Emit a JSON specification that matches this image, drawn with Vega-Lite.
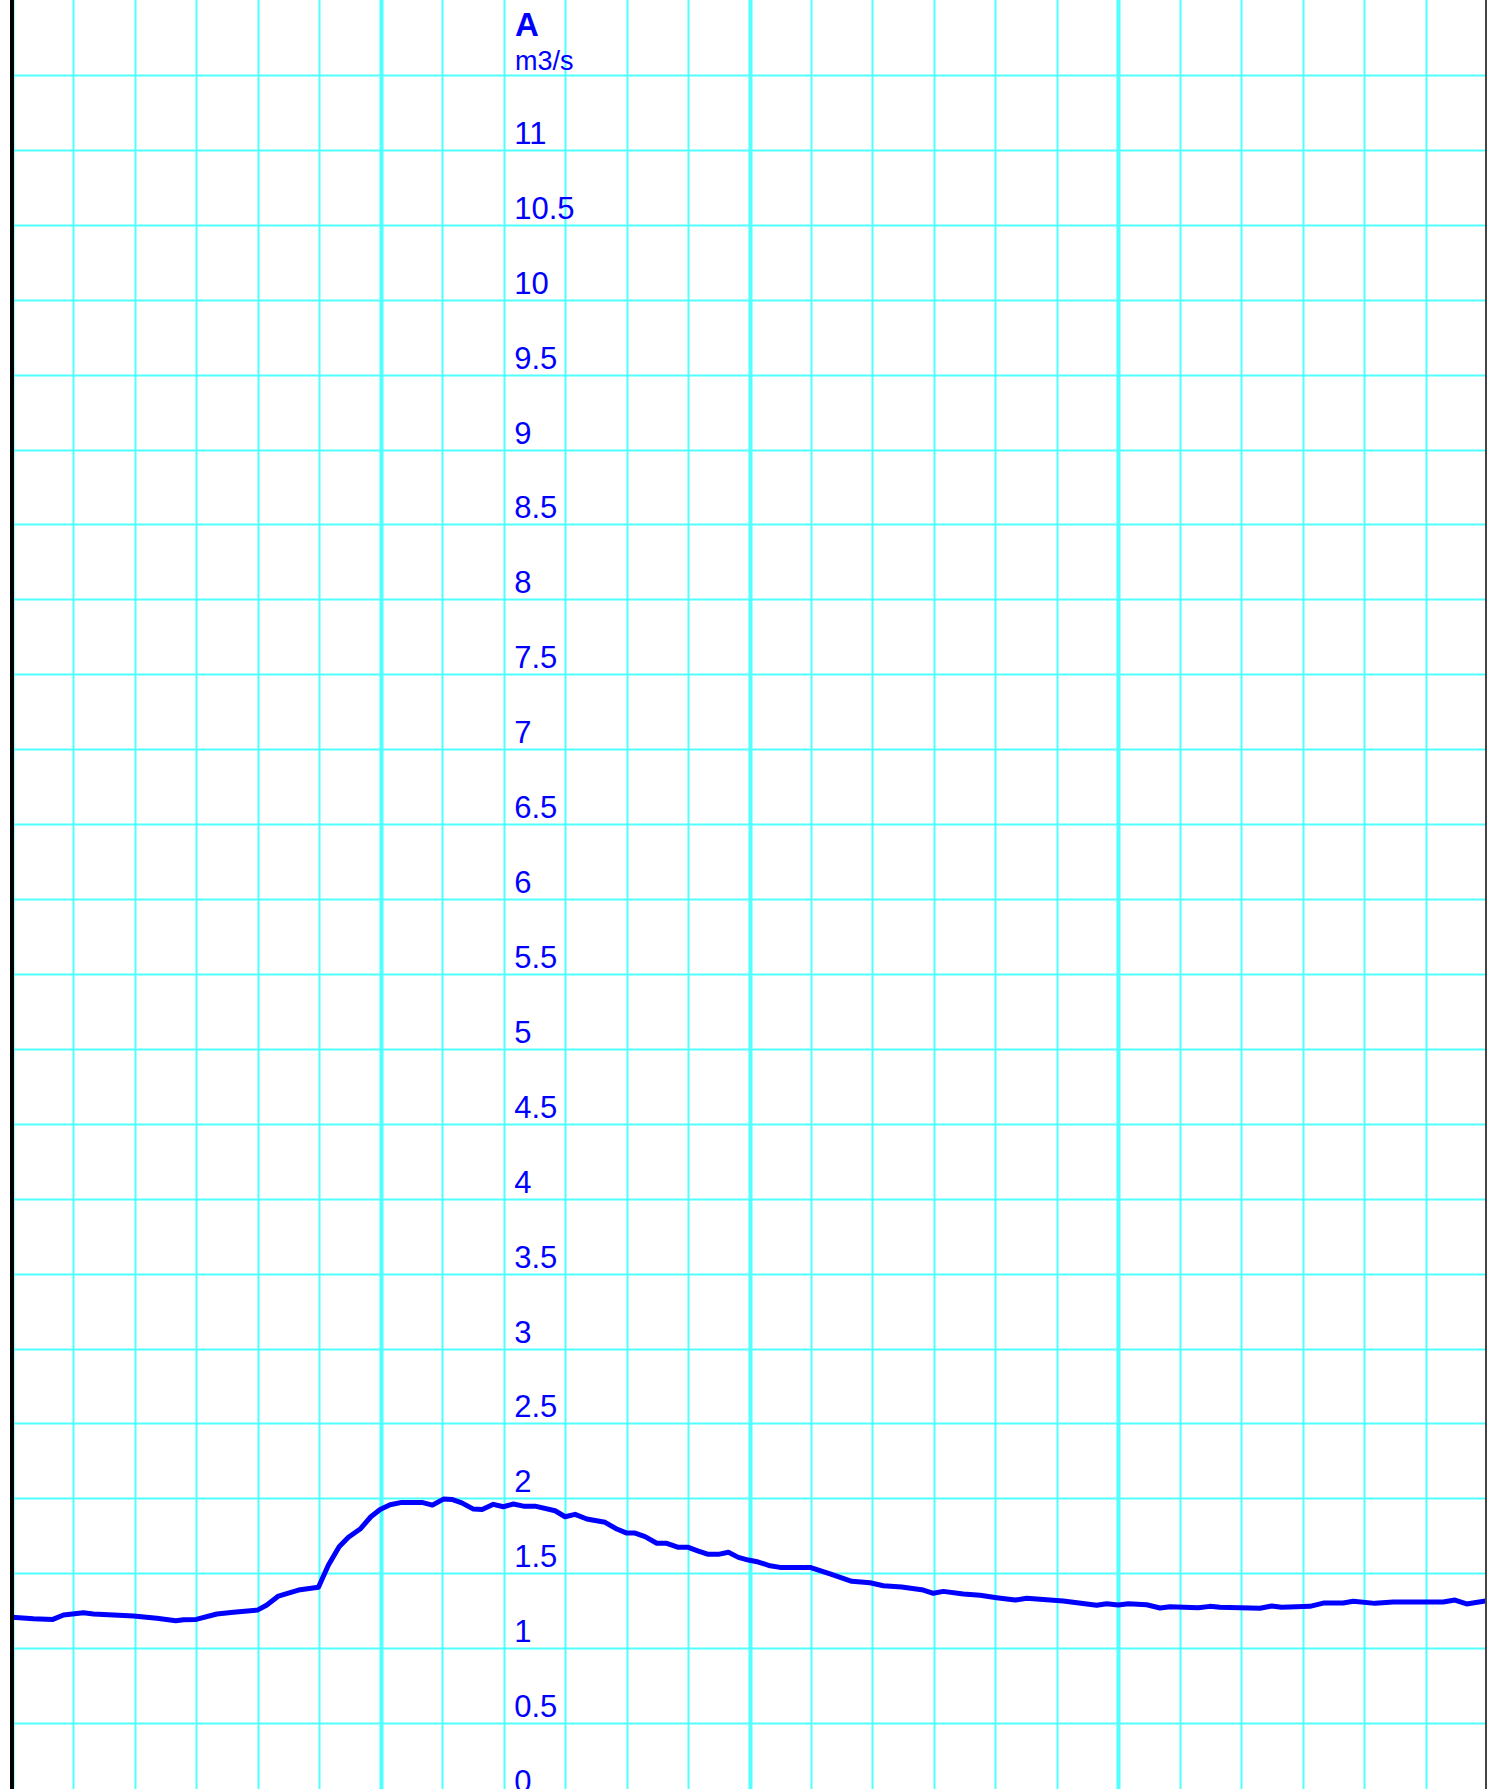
{
  "$schema": "https://vega.github.io/schema/vega-lite/v6.json",
  "autosize": "none",
  "width": 1475,
  "height": 1789,
  "padding": {"left": 12, "top": 0, "right": 0, "bottom": 0},
  "background": "white",
  "config": {"view": {"stroke": null}, "font": "Liberation Sans"},
  "title": {
    "text": "A",
    "subtitle": "m3/s",
    "orient": "top",
    "anchor": "start",
    "frame": "group",
    "offset": 0,
    "dx": 503,
    "dy": 77,
    "font": "Liberation Sans",
    "fontSize": 33,
    "fontWeight": "bold",
    "color": "#0000ff",
    "subtitleFont": "Liberation Sans",
    "subtitleFontSize": 27,
    "subtitleColor": "#0000ff",
    "subtitlePadding": 6
  },
  "layer": [
    {
      "data": {"values": [
        {"t": 0, "q": 1.206}, {"t": 0.35, "q": 1.196}, {"t": 0.665, "q": 1.192}, {"t": 0.838, "q": 1.221},
        {"t": 1.163, "q": 1.236}, {"t": 1.326, "q": 1.228}, {"t": 1.977, "q": 1.214}, {"t": 2.357, "q": 1.199},
        {"t": 2.666, "q": 1.183}, {"t": 2.79, "q": 1.19}, {"t": 2.997, "q": 1.192}, {"t": 3.333, "q": 1.228},
        {"t": 3.603, "q": 1.239}, {"t": 3.994, "q": 1.254}, {"t": 4.147, "q": 1.288}, {"t": 4.335, "q": 1.348},
        {"t": 4.661, "q": 1.388}, {"t": 4.986, "q": 1.406}, {"t": 5.149, "q": 1.555}, {"t": 5.323, "q": 1.677},
        {"t": 5.474, "q": 1.74}, {"t": 5.665, "q": 1.795}, {"t": 5.839, "q": 1.877}, {"t": 5.99, "q": 1.926},
        {"t": 6.152, "q": 1.957}, {"t": 6.343, "q": 1.973}, {"t": 6.668, "q": 1.973}, {"t": 6.841, "q": 1.955},
        {"t": 7.02, "q": 1.995}, {"t": 7.156, "q": 1.993}, {"t": 7.319, "q": 1.97}, {"t": 7.508, "q": 1.928},
        {"t": 7.65, "q": 1.926}, {"t": 7.833, "q": 1.96}, {"t": 7.996, "q": 1.944}, {"t": 8.158, "q": 1.962},
        {"t": 8.321, "q": 1.948}, {"t": 8.511, "q": 1.948}, {"t": 8.837, "q": 1.917}, {"t": 9.0, "q": 1.877},
        {"t": 9.162, "q": 1.893}, {"t": 9.353, "q": 1.862}, {"t": 9.65, "q": 1.84}, {"t": 9.841, "q": 1.795},
        {"t": 10.003, "q": 1.768}, {"t": 10.138, "q": 1.768}, {"t": 10.301, "q": 1.744}, {"t": 10.491, "q": 1.7},
        {"t": 10.654, "q": 1.7}, {"t": 10.843, "q": 1.673}, {"t": 11.005, "q": 1.673}, {"t": 11.168, "q": 1.648},
        {"t": 11.331, "q": 1.626}, {"t": 11.493, "q": 1.626}, {"t": 11.656, "q": 1.64}, {"t": 11.819, "q": 1.606},
        {"t": 11.981, "q": 1.588}, {"t": 12.144, "q": 1.575}, {"t": 12.334, "q": 1.55}, {"t": 12.497, "q": 1.539},
        {"t": 12.985, "q": 1.539}, {"t": 13.311, "q": 1.495}, {"t": 13.664, "q": 1.446}, {"t": 13.961, "q": 1.437},
        {"t": 14.178, "q": 1.417}, {"t": 14.477, "q": 1.408}, {"t": 14.828, "q": 1.388}, {"t": 14.991, "q": 1.366},
        {"t": 15.154, "q": 1.379}, {"t": 15.479, "q": 1.361}, {"t": 15.751, "q": 1.353}, {"t": 16.022, "q": 1.337},
        {"t": 16.32, "q": 1.321}, {"t": 16.51, "q": 1.333}, {"t": 17.106, "q": 1.315}, {"t": 17.649, "q": 1.286},
        {"t": 17.812, "q": 1.297}, {"t": 18.001, "q": 1.288}, {"t": 18.163, "q": 1.297}, {"t": 18.463, "q": 1.29},
        {"t": 18.679, "q": 1.268}, {"t": 18.842, "q": 1.277}, {"t": 19.302, "q": 1.27}, {"t": 19.493, "q": 1.279},
        {"t": 19.655, "q": 1.273}, {"t": 20.306, "q": 1.266}, {"t": 20.496, "q": 1.281}, {"t": 20.659, "q": 1.273},
        {"t": 21.119, "q": 1.279}, {"t": 21.336, "q": 1.301}, {"t": 21.661, "q": 1.301}, {"t": 21.824, "q": 1.313},
        {"t": 22.177, "q": 1.299}, {"t": 22.474, "q": 1.308}, {"t": 23.288, "q": 1.308}, {"t": 23.478, "q": 1.321},
        {"t": 23.668, "q": 1.295}, {"t": 24.0, "q": 1.317}
      ]},
      "mark": {"type": "line", "color": "#0000ff", "strokeWidth": 5, "strokeJoin": "round", "clip": true},
      "encoding": {
        "x": {
          "field": "t", "type": "quantitative",
          "scale": {"domain": [0, 24], "nice": false, "zero": false},
          "axis": {
            "values": [0,1,2,3,4,5,6,7,8,9,10,11,12,13,14,15,16,17,18,19,20,21,22,23,24],
            "grid": true, "gridColor": "#50ffff",
            "gridWidth": {"condition": {"test": "datum.value % 6 === 0", "value": 4}, "value": 2},
            "gridOpacity": 1,
            "labels": false, "ticks": false, "domain": false, "title": null
          }
        },
        "y": {
          "field": "q", "type": "quantitative",
          "scale": {"domain": [0, 12], "range": [1798, 0], "nice": false, "zero": false},
          "axis": {
            "orient": "right", "offset": -983.3,
            "values": [0,0.5,1,1.5,2,2.5,3,3.5,4,4.5,5,5.5,6,6.5,7,7.5,8,8.5,9,9.5,10,10.5,11,11.5],
            "grid": true, "gridColor": "#50ffff", "gridWidth": 2, "gridOpacity": 1,
            "ticks": false, "tickSize": 0, "domain": false,
            "labelColor": "#0000ff", "labelFont": "Liberation Sans", "labelFontSize": 31,
            "labelAlign": "left", "labelBaseline": "alphabetic", "labelOffset": -6.5, "labelPadding": 10,
            "labelOverlap": false, "labelBound": false, "labelFlush": false,
            "labelExpr": "datum.value == 11.5 ? '' : '' + datum.value",
            "title": null
          }
        }
      }
    },
    {
      "data": {"values": [{}]},
      "mark": {"type": "rule", "color": "#000000", "strokeWidth": 4},
      "encoding": {"x": {"datum": 0, "type": "quantitative"}}
    },
    {
      "data": {"values": [{}]},
      "mark": {"type": "rule", "color": "#444444", "strokeWidth": 4},
      "encoding": {"x": {"datum": 24, "type": "quantitative"}}
    }
  ]
}
